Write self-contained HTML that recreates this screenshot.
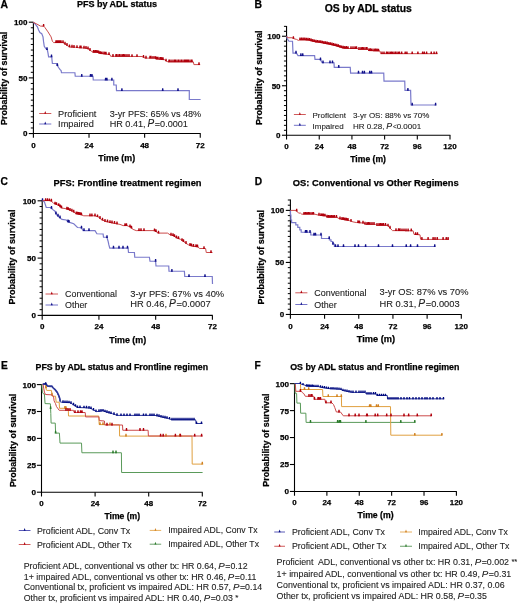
<!DOCTYPE html>
<html><head><meta charset="utf-8"><style>
html,body{margin:0;padding:0;background:#fff;width:520px;height:605px;overflow:hidden}
svg{display:block;font-family:"Liberation Sans", sans-serif}
text{-webkit-font-smoothing:antialiased}
.b{stroke:#000;stroke-width:0.25px;fill:#000}
.r{stroke:#222;stroke-width:0.1px}
svg{will-change:transform}
</style></head><body>
<svg width="520" height="605" viewBox="0 0 520 605">
<rect width="520" height="605" fill="#fff"/>
<text class="b" x="0.50" y="8.40" font-size="10.4" font-weight="bold" text-anchor="start" fill="#111" >A</text>
<text class="b" x="254.50" y="8.30" font-size="10.4" font-weight="bold" text-anchor="start" fill="#111" >B</text>
<text class="b" x="0.60" y="185.40" font-size="10.2" font-weight="bold" text-anchor="start" fill="#111" >C</text>
<text class="b" x="254.70" y="185.00" font-size="10.2" font-weight="bold" text-anchor="start" fill="#111" >D</text>
<text class="b" x="0.90" y="369.30" font-size="10.2" font-weight="bold" text-anchor="start" fill="#111" >E</text>
<text class="b" x="254.50" y="369.20" font-size="10.2" font-weight="bold" text-anchor="start" fill="#111" >F</text>
<text class="b" x="76.90" y="7.30" font-size="9.0" font-weight="bold" text-anchor="start" fill="#111" >PFS by ADL status</text>
<text class="b" x="324.70" y="11.90" font-size="10.4" font-weight="bold" text-anchor="start" fill="#111" >OS by ADL status</text>
<text class="b" x="53.60" y="186.10" font-size="9.36" font-weight="bold" text-anchor="start" fill="#111" >PFS: Frontline treatment regimen</text>
<text class="b" x="292.80" y="185.50" font-size="9.33" font-weight="bold" text-anchor="start" fill="#111" >OS: Conventional vs Other Regimens</text>
<text class="b" x="35.60" y="370.30" font-size="8.77" font-weight="bold" text-anchor="start" fill="#111" >PFS by ADL status and Frontline regimen</text>
<text class="b" x="290.20" y="370.00" font-size="8.84" font-weight="bold" text-anchor="start" fill="#111" >OS by ADL status and Frontline regimen</text>
<text class="b" x="116.70" y="160.60" font-size="8.9" font-weight="bold" text-anchor="middle" fill="#111" >Time (m)</text>
<text class="b" x="368.10" y="161.50" font-size="8.6" font-weight="bold" text-anchor="middle" fill="#111" >Time (m)</text>
<text class="b" x="127.70" y="342.60" font-size="8.9" font-weight="bold" text-anchor="middle" fill="#111" >Time (m)</text>
<text class="b" x="376.00" y="341.50" font-size="9.25" font-weight="bold" text-anchor="middle" fill="#111" >Time (m)</text>
<text class="b" x="122.30" y="518.70" font-size="8.6" font-weight="bold" text-anchor="middle" fill="#111" >Time (m)</text>
<text class="b" x="375.60" y="517.50" font-size="8.7" font-weight="bold" text-anchor="middle" fill="#111" >Time (m)</text>
<text class="b" transform="translate(7.30,124.90) rotate(-90)" font-size="8.93" font-weight="bold" fill="#111">Probability of survival</text>
<text class="b" transform="translate(261.80,125.00) rotate(-90)" font-size="9.05" font-weight="bold" fill="#111">Probability of survival</text>
<text class="b" transform="translate(14.90,304.60) rotate(-90)" font-size="9.1" font-weight="bold" fill="#111">Probability of survival</text>
<text class="b" transform="translate(264.20,304.50) rotate(-90)" font-size="9.05" font-weight="bold" fill="#111">Probability of survival</text>
<text class="b" transform="translate(15.60,487.10) rotate(-90)" font-size="8.93" font-weight="bold" fill="#111">Probability of survival</text>
<text class="b" transform="translate(268.60,486.70) rotate(-90)" font-size="8.93" font-weight="bold" fill="#111">Probability of survival</text>
<line x1="33.40" y1="21.90" x2="33.40" y2="134.05" stroke="#000" stroke-width="1.1"/>
<line x1="32.90" y1="133.55" x2="200.65" y2="133.55" stroke="#000" stroke-width="1.1"/>
<line x1="30.80" y1="127.98" x2="33.40" y2="127.98" stroke="#000" stroke-width="1.0"/>
<line x1="30.80" y1="122.42" x2="33.40" y2="122.42" stroke="#000" stroke-width="1.0"/>
<line x1="30.80" y1="116.85" x2="33.40" y2="116.85" stroke="#000" stroke-width="1.0"/>
<line x1="30.80" y1="111.28" x2="33.40" y2="111.28" stroke="#000" stroke-width="1.0"/>
<line x1="30.80" y1="105.71" x2="33.40" y2="105.71" stroke="#000" stroke-width="1.0"/>
<line x1="30.80" y1="100.15" x2="33.40" y2="100.15" stroke="#000" stroke-width="1.0"/>
<line x1="30.80" y1="94.58" x2="33.40" y2="94.58" stroke="#000" stroke-width="1.0"/>
<line x1="30.80" y1="89.01" x2="33.40" y2="89.01" stroke="#000" stroke-width="1.0"/>
<line x1="30.80" y1="83.44" x2="33.40" y2="83.44" stroke="#000" stroke-width="1.0"/>
<line x1="30.80" y1="72.31" x2="33.40" y2="72.31" stroke="#000" stroke-width="1.0"/>
<line x1="30.80" y1="66.74" x2="33.40" y2="66.74" stroke="#000" stroke-width="1.0"/>
<line x1="30.80" y1="61.17" x2="33.40" y2="61.17" stroke="#000" stroke-width="1.0"/>
<line x1="30.80" y1="55.61" x2="33.40" y2="55.61" stroke="#000" stroke-width="1.0"/>
<line x1="30.80" y1="50.04" x2="33.40" y2="50.04" stroke="#000" stroke-width="1.0"/>
<line x1="30.80" y1="44.47" x2="33.40" y2="44.47" stroke="#000" stroke-width="1.0"/>
<line x1="30.80" y1="38.90" x2="33.40" y2="38.90" stroke="#000" stroke-width="1.0"/>
<line x1="30.80" y1="33.33" x2="33.40" y2="33.33" stroke="#000" stroke-width="1.0"/>
<line x1="30.80" y1="27.77" x2="33.40" y2="27.77" stroke="#000" stroke-width="1.0"/>
<line x1="28.80" y1="133.55" x2="33.40" y2="133.55" stroke="#000" stroke-width="1.1"/>
<text class="b" x="27.40" y="136.43" font-size="8.0" font-weight="bold" text-anchor="end" fill="#111" >0</text>
<line x1="28.80" y1="77.88" x2="33.40" y2="77.88" stroke="#000" stroke-width="1.1"/>
<text class="b" x="27.40" y="80.75" font-size="8.0" font-weight="bold" text-anchor="end" fill="#111" >50</text>
<line x1="28.80" y1="22.20" x2="33.40" y2="22.20" stroke="#000" stroke-width="1.1"/>
<text class="b" x="27.40" y="25.08" font-size="8.0" font-weight="bold" text-anchor="end" fill="#111" >100</text>
<line x1="33.40" y1="133.55" x2="33.40" y2="137.85" stroke="#000" stroke-width="1.1"/>
<text class="b" x="33.40" y="147.60" font-size="8.0" font-weight="bold" text-anchor="middle" fill="#111" >0</text>
<line x1="89.02" y1="133.55" x2="89.02" y2="137.85" stroke="#000" stroke-width="1.1"/>
<text class="b" x="89.02" y="147.60" font-size="8.0" font-weight="bold" text-anchor="middle" fill="#111" >24</text>
<line x1="144.63" y1="133.55" x2="144.63" y2="137.85" stroke="#000" stroke-width="1.1"/>
<text class="b" x="144.63" y="147.60" font-size="8.0" font-weight="bold" text-anchor="middle" fill="#111" >48</text>
<line x1="200.25" y1="133.55" x2="200.25" y2="137.85" stroke="#000" stroke-width="1.1"/>
<text class="b" x="200.25" y="147.60" font-size="8.0" font-weight="bold" text-anchor="middle" fill="#111" >72</text>
<line x1="286.55" y1="25.95" x2="286.55" y2="135.75" stroke="#000" stroke-width="1.1"/>
<line x1="286.05" y1="135.25" x2="450.40" y2="135.25" stroke="#000" stroke-width="1.1"/>
<line x1="283.95" y1="130.30" x2="286.55" y2="130.30" stroke="#000" stroke-width="1.0"/>
<line x1="283.95" y1="125.35" x2="286.55" y2="125.35" stroke="#000" stroke-width="1.0"/>
<line x1="283.95" y1="120.40" x2="286.55" y2="120.40" stroke="#000" stroke-width="1.0"/>
<line x1="283.95" y1="115.45" x2="286.55" y2="115.45" stroke="#000" stroke-width="1.0"/>
<line x1="283.95" y1="110.50" x2="286.55" y2="110.50" stroke="#000" stroke-width="1.0"/>
<line x1="283.95" y1="105.55" x2="286.55" y2="105.55" stroke="#000" stroke-width="1.0"/>
<line x1="283.95" y1="100.60" x2="286.55" y2="100.60" stroke="#000" stroke-width="1.0"/>
<line x1="283.95" y1="95.65" x2="286.55" y2="95.65" stroke="#000" stroke-width="1.0"/>
<line x1="283.95" y1="90.70" x2="286.55" y2="90.70" stroke="#000" stroke-width="1.0"/>
<line x1="283.95" y1="80.80" x2="286.55" y2="80.80" stroke="#000" stroke-width="1.0"/>
<line x1="283.95" y1="75.85" x2="286.55" y2="75.85" stroke="#000" stroke-width="1.0"/>
<line x1="283.95" y1="70.90" x2="286.55" y2="70.90" stroke="#000" stroke-width="1.0"/>
<line x1="283.95" y1="65.95" x2="286.55" y2="65.95" stroke="#000" stroke-width="1.0"/>
<line x1="283.95" y1="61.00" x2="286.55" y2="61.00" stroke="#000" stroke-width="1.0"/>
<line x1="283.95" y1="56.05" x2="286.55" y2="56.05" stroke="#000" stroke-width="1.0"/>
<line x1="283.95" y1="51.10" x2="286.55" y2="51.10" stroke="#000" stroke-width="1.0"/>
<line x1="283.95" y1="46.15" x2="286.55" y2="46.15" stroke="#000" stroke-width="1.0"/>
<line x1="283.95" y1="41.20" x2="286.55" y2="41.20" stroke="#000" stroke-width="1.0"/>
<line x1="283.95" y1="31.30" x2="286.55" y2="31.30" stroke="#000" stroke-width="1.0"/>
<line x1="283.95" y1="26.35" x2="286.55" y2="26.35" stroke="#000" stroke-width="1.0"/>
<line x1="281.95" y1="135.25" x2="286.55" y2="135.25" stroke="#000" stroke-width="1.1"/>
<text class="b" x="280.55" y="138.13" font-size="8.0" font-weight="bold" text-anchor="end" fill="#111" >0</text>
<line x1="281.95" y1="85.75" x2="286.55" y2="85.75" stroke="#000" stroke-width="1.1"/>
<text class="b" x="280.55" y="88.63" font-size="8.0" font-weight="bold" text-anchor="end" fill="#111" >50</text>
<line x1="281.95" y1="36.25" x2="286.55" y2="36.25" stroke="#000" stroke-width="1.1"/>
<text class="b" x="280.55" y="39.13" font-size="8.0" font-weight="bold" text-anchor="end" fill="#111" >100</text>
<line x1="286.55" y1="135.25" x2="286.55" y2="139.55" stroke="#000" stroke-width="1.1"/>
<text class="b" x="286.55" y="148.80" font-size="8.0" font-weight="bold" text-anchor="middle" fill="#111" >0</text>
<line x1="319.24" y1="135.25" x2="319.24" y2="139.55" stroke="#000" stroke-width="1.1"/>
<text class="b" x="319.24" y="148.80" font-size="8.0" font-weight="bold" text-anchor="middle" fill="#111" >24</text>
<line x1="351.93" y1="135.25" x2="351.93" y2="139.55" stroke="#000" stroke-width="1.1"/>
<text class="b" x="351.93" y="148.80" font-size="8.0" font-weight="bold" text-anchor="middle" fill="#111" >48</text>
<line x1="384.62" y1="135.25" x2="384.62" y2="139.55" stroke="#000" stroke-width="1.1"/>
<text class="b" x="384.62" y="148.80" font-size="8.0" font-weight="bold" text-anchor="middle" fill="#111" >72</text>
<line x1="417.31" y1="135.25" x2="417.31" y2="139.55" stroke="#000" stroke-width="1.1"/>
<text class="b" x="417.31" y="148.80" font-size="8.0" font-weight="bold" text-anchor="middle" fill="#111" >96</text>
<line x1="450.00" y1="135.25" x2="450.00" y2="139.55" stroke="#000" stroke-width="1.1"/>
<text class="b" x="450.00" y="148.80" font-size="8.0" font-weight="bold" text-anchor="middle" fill="#111" >120</text>
<line x1="42.20" y1="200.50" x2="42.20" y2="315.90" stroke="#000" stroke-width="1.1"/>
<line x1="41.70" y1="315.40" x2="212.80" y2="315.40" stroke="#000" stroke-width="1.1"/>
<line x1="39.60" y1="309.67" x2="42.20" y2="309.67" stroke="#000" stroke-width="1.0"/>
<line x1="39.60" y1="303.94" x2="42.20" y2="303.94" stroke="#000" stroke-width="1.0"/>
<line x1="39.60" y1="298.21" x2="42.20" y2="298.21" stroke="#000" stroke-width="1.0"/>
<line x1="39.60" y1="292.48" x2="42.20" y2="292.48" stroke="#000" stroke-width="1.0"/>
<line x1="39.60" y1="286.75" x2="42.20" y2="286.75" stroke="#000" stroke-width="1.0"/>
<line x1="39.60" y1="281.02" x2="42.20" y2="281.02" stroke="#000" stroke-width="1.0"/>
<line x1="39.60" y1="275.29" x2="42.20" y2="275.29" stroke="#000" stroke-width="1.0"/>
<line x1="39.60" y1="269.56" x2="42.20" y2="269.56" stroke="#000" stroke-width="1.0"/>
<line x1="39.60" y1="263.83" x2="42.20" y2="263.83" stroke="#000" stroke-width="1.0"/>
<line x1="39.60" y1="252.37" x2="42.20" y2="252.37" stroke="#000" stroke-width="1.0"/>
<line x1="39.60" y1="246.64" x2="42.20" y2="246.64" stroke="#000" stroke-width="1.0"/>
<line x1="39.60" y1="240.91" x2="42.20" y2="240.91" stroke="#000" stroke-width="1.0"/>
<line x1="39.60" y1="235.18" x2="42.20" y2="235.18" stroke="#000" stroke-width="1.0"/>
<line x1="39.60" y1="229.45" x2="42.20" y2="229.45" stroke="#000" stroke-width="1.0"/>
<line x1="39.60" y1="223.72" x2="42.20" y2="223.72" stroke="#000" stroke-width="1.0"/>
<line x1="39.60" y1="217.99" x2="42.20" y2="217.99" stroke="#000" stroke-width="1.0"/>
<line x1="39.60" y1="212.26" x2="42.20" y2="212.26" stroke="#000" stroke-width="1.0"/>
<line x1="39.60" y1="206.53" x2="42.20" y2="206.53" stroke="#000" stroke-width="1.0"/>
<line x1="37.60" y1="315.40" x2="42.20" y2="315.40" stroke="#000" stroke-width="1.1"/>
<text class="b" x="36.00" y="318.28" font-size="8.0" font-weight="bold" text-anchor="end" fill="#111" >0</text>
<line x1="37.60" y1="258.10" x2="42.20" y2="258.10" stroke="#000" stroke-width="1.1"/>
<text class="b" x="36.00" y="260.98" font-size="8.0" font-weight="bold" text-anchor="end" fill="#111" >50</text>
<line x1="37.60" y1="200.80" x2="42.20" y2="200.80" stroke="#000" stroke-width="1.1"/>
<text class="b" x="36.00" y="203.68" font-size="8.0" font-weight="bold" text-anchor="end" fill="#111" >100</text>
<line x1="42.20" y1="315.40" x2="42.20" y2="319.70" stroke="#000" stroke-width="1.1"/>
<text class="b" x="42.20" y="329.40" font-size="8.0" font-weight="bold" text-anchor="middle" fill="#111" >0</text>
<line x1="98.93" y1="315.40" x2="98.93" y2="319.70" stroke="#000" stroke-width="1.1"/>
<text class="b" x="98.93" y="329.40" font-size="8.0" font-weight="bold" text-anchor="middle" fill="#111" >24</text>
<line x1="155.67" y1="315.40" x2="155.67" y2="319.70" stroke="#000" stroke-width="1.1"/>
<text class="b" x="155.67" y="329.40" font-size="8.0" font-weight="bold" text-anchor="middle" fill="#111" >48</text>
<line x1="212.40" y1="315.40" x2="212.40" y2="319.70" stroke="#000" stroke-width="1.1"/>
<text class="b" x="212.40" y="329.40" font-size="8.0" font-weight="bold" text-anchor="middle" fill="#111" >72</text>
<line x1="290.40" y1="199.50" x2="290.40" y2="314.95" stroke="#000" stroke-width="1.1"/>
<line x1="289.90" y1="314.45" x2="461.70" y2="314.45" stroke="#000" stroke-width="1.1"/>
<line x1="287.80" y1="309.25" x2="290.40" y2="309.25" stroke="#000" stroke-width="1.0"/>
<line x1="287.80" y1="304.05" x2="290.40" y2="304.05" stroke="#000" stroke-width="1.0"/>
<line x1="287.80" y1="298.84" x2="290.40" y2="298.84" stroke="#000" stroke-width="1.0"/>
<line x1="287.80" y1="293.64" x2="290.40" y2="293.64" stroke="#000" stroke-width="1.0"/>
<line x1="287.80" y1="288.44" x2="290.40" y2="288.44" stroke="#000" stroke-width="1.0"/>
<line x1="287.80" y1="283.24" x2="290.40" y2="283.24" stroke="#000" stroke-width="1.0"/>
<line x1="287.80" y1="278.03" x2="290.40" y2="278.03" stroke="#000" stroke-width="1.0"/>
<line x1="287.80" y1="272.83" x2="290.40" y2="272.83" stroke="#000" stroke-width="1.0"/>
<line x1="287.80" y1="267.63" x2="290.40" y2="267.63" stroke="#000" stroke-width="1.0"/>
<line x1="287.80" y1="257.22" x2="290.40" y2="257.22" stroke="#000" stroke-width="1.0"/>
<line x1="287.80" y1="252.02" x2="290.40" y2="252.02" stroke="#000" stroke-width="1.0"/>
<line x1="287.80" y1="246.82" x2="290.40" y2="246.82" stroke="#000" stroke-width="1.0"/>
<line x1="287.80" y1="241.62" x2="290.40" y2="241.62" stroke="#000" stroke-width="1.0"/>
<line x1="287.80" y1="236.41" x2="290.40" y2="236.41" stroke="#000" stroke-width="1.0"/>
<line x1="287.80" y1="231.21" x2="290.40" y2="231.21" stroke="#000" stroke-width="1.0"/>
<line x1="287.80" y1="226.01" x2="290.40" y2="226.01" stroke="#000" stroke-width="1.0"/>
<line x1="287.80" y1="220.81" x2="290.40" y2="220.81" stroke="#000" stroke-width="1.0"/>
<line x1="287.80" y1="215.60" x2="290.40" y2="215.60" stroke="#000" stroke-width="1.0"/>
<line x1="287.80" y1="205.20" x2="290.40" y2="205.20" stroke="#000" stroke-width="1.0"/>
<line x1="287.80" y1="200.00" x2="290.40" y2="200.00" stroke="#000" stroke-width="1.0"/>
<line x1="285.80" y1="314.45" x2="290.40" y2="314.45" stroke="#000" stroke-width="1.1"/>
<text class="b" x="284.20" y="317.33" font-size="8.0" font-weight="bold" text-anchor="end" fill="#111" >0</text>
<line x1="285.80" y1="262.43" x2="290.40" y2="262.43" stroke="#000" stroke-width="1.1"/>
<text class="b" x="284.20" y="265.31" font-size="8.0" font-weight="bold" text-anchor="end" fill="#111" >50</text>
<line x1="285.80" y1="210.40" x2="290.40" y2="210.40" stroke="#000" stroke-width="1.1"/>
<text class="b" x="284.20" y="213.28" font-size="8.0" font-weight="bold" text-anchor="end" fill="#111" >100</text>
<line x1="290.40" y1="314.45" x2="290.40" y2="318.75" stroke="#000" stroke-width="1.1"/>
<text class="b" x="290.40" y="328.70" font-size="8.0" font-weight="bold" text-anchor="middle" fill="#111" >0</text>
<line x1="324.58" y1="314.45" x2="324.58" y2="318.75" stroke="#000" stroke-width="1.1"/>
<text class="b" x="324.58" y="328.70" font-size="8.0" font-weight="bold" text-anchor="middle" fill="#111" >24</text>
<line x1="358.76" y1="314.45" x2="358.76" y2="318.75" stroke="#000" stroke-width="1.1"/>
<text class="b" x="358.76" y="328.70" font-size="8.0" font-weight="bold" text-anchor="middle" fill="#111" >48</text>
<line x1="392.94" y1="314.45" x2="392.94" y2="318.75" stroke="#000" stroke-width="1.1"/>
<text class="b" x="392.94" y="328.70" font-size="8.0" font-weight="bold" text-anchor="middle" fill="#111" >72</text>
<line x1="427.12" y1="314.45" x2="427.12" y2="318.75" stroke="#000" stroke-width="1.1"/>
<text class="b" x="427.12" y="328.70" font-size="8.0" font-weight="bold" text-anchor="middle" fill="#111" >96</text>
<line x1="461.30" y1="314.45" x2="461.30" y2="318.75" stroke="#000" stroke-width="1.1"/>
<text class="b" x="461.30" y="328.70" font-size="8.0" font-weight="bold" text-anchor="middle" fill="#111" >120</text>
<line x1="41.50" y1="384.30" x2="41.50" y2="492.70" stroke="#000" stroke-width="1.1"/>
<line x1="41.00" y1="492.20" x2="202.70" y2="492.20" stroke="#000" stroke-width="1.1"/>
<line x1="36.90" y1="492.20" x2="41.50" y2="492.20" stroke="#000" stroke-width="1.1"/>
<text class="b" x="36.00" y="495.12" font-size="8.1" font-weight="bold" text-anchor="end" fill="#111" >0</text>
<line x1="36.90" y1="465.30" x2="41.50" y2="465.30" stroke="#000" stroke-width="1.1"/>
<text class="b" x="36.00" y="468.22" font-size="8.1" font-weight="bold" text-anchor="end" fill="#111" >25</text>
<line x1="36.90" y1="438.40" x2="41.50" y2="438.40" stroke="#000" stroke-width="1.1"/>
<text class="b" x="36.00" y="441.32" font-size="8.1" font-weight="bold" text-anchor="end" fill="#111" >50</text>
<line x1="36.90" y1="411.50" x2="41.50" y2="411.50" stroke="#000" stroke-width="1.1"/>
<text class="b" x="36.00" y="414.42" font-size="8.1" font-weight="bold" text-anchor="end" fill="#111" >75</text>
<line x1="36.90" y1="384.60" x2="41.50" y2="384.60" stroke="#000" stroke-width="1.1"/>
<text class="b" x="36.00" y="387.52" font-size="8.1" font-weight="bold" text-anchor="end" fill="#111" >100</text>
<line x1="41.50" y1="492.20" x2="41.50" y2="496.50" stroke="#000" stroke-width="1.1"/>
<text class="b" x="41.50" y="505.60" font-size="7.9" font-weight="bold" text-anchor="middle" fill="#111" >0</text>
<line x1="95.10" y1="492.20" x2="95.10" y2="496.50" stroke="#000" stroke-width="1.1"/>
<text class="b" x="95.10" y="505.60" font-size="7.9" font-weight="bold" text-anchor="middle" fill="#111" >24</text>
<line x1="148.70" y1="492.20" x2="148.70" y2="496.50" stroke="#000" stroke-width="1.1"/>
<text class="b" x="148.70" y="505.60" font-size="7.9" font-weight="bold" text-anchor="middle" fill="#111" >48</text>
<line x1="202.30" y1="492.20" x2="202.30" y2="496.50" stroke="#000" stroke-width="1.1"/>
<text class="b" x="202.30" y="505.60" font-size="7.9" font-weight="bold" text-anchor="middle" fill="#111" >72</text>
<line x1="294.50" y1="383.35" x2="294.50" y2="491.95" stroke="#000" stroke-width="1.1"/>
<line x1="294.00" y1="491.45" x2="456.80" y2="491.45" stroke="#000" stroke-width="1.1"/>
<line x1="289.90" y1="491.45" x2="294.50" y2="491.45" stroke="#000" stroke-width="1.1"/>
<text class="b" x="289.00" y="494.37" font-size="8.1" font-weight="bold" text-anchor="end" fill="#111" >0</text>
<line x1="289.90" y1="464.50" x2="294.50" y2="464.50" stroke="#000" stroke-width="1.1"/>
<text class="b" x="289.00" y="467.42" font-size="8.1" font-weight="bold" text-anchor="end" fill="#111" >25</text>
<line x1="289.90" y1="437.55" x2="294.50" y2="437.55" stroke="#000" stroke-width="1.1"/>
<text class="b" x="289.00" y="440.47" font-size="8.1" font-weight="bold" text-anchor="end" fill="#111" >50</text>
<line x1="289.90" y1="410.60" x2="294.50" y2="410.60" stroke="#000" stroke-width="1.1"/>
<text class="b" x="289.00" y="413.52" font-size="8.1" font-weight="bold" text-anchor="end" fill="#111" >75</text>
<line x1="289.90" y1="383.65" x2="294.50" y2="383.65" stroke="#000" stroke-width="1.1"/>
<text class="b" x="289.00" y="386.57" font-size="8.1" font-weight="bold" text-anchor="end" fill="#111" >100</text>
<line x1="294.50" y1="491.45" x2="294.50" y2="495.75" stroke="#000" stroke-width="1.1"/>
<text class="b" x="294.50" y="505.10" font-size="7.9" font-weight="bold" text-anchor="middle" fill="#111" >0</text>
<line x1="326.88" y1="491.45" x2="326.88" y2="495.75" stroke="#000" stroke-width="1.1"/>
<text class="b" x="326.88" y="505.10" font-size="7.9" font-weight="bold" text-anchor="middle" fill="#111" >24</text>
<line x1="359.26" y1="491.45" x2="359.26" y2="495.75" stroke="#000" stroke-width="1.1"/>
<text class="b" x="359.26" y="505.10" font-size="7.9" font-weight="bold" text-anchor="middle" fill="#111" >48</text>
<line x1="391.64" y1="491.45" x2="391.64" y2="495.75" stroke="#000" stroke-width="1.1"/>
<text class="b" x="391.64" y="505.10" font-size="7.9" font-weight="bold" text-anchor="middle" fill="#111" >72</text>
<line x1="424.02" y1="491.45" x2="424.02" y2="495.75" stroke="#000" stroke-width="1.1"/>
<text class="b" x="424.02" y="505.10" font-size="7.9" font-weight="bold" text-anchor="middle" fill="#111" >96</text>
<line x1="456.40" y1="491.45" x2="456.40" y2="495.75" stroke="#000" stroke-width="1.1"/>
<text class="b" x="456.40" y="505.10" font-size="7.9" font-weight="bold" text-anchor="middle" fill="#111" >120</text>
<path d="M33.25,22.30 L35.50,24.40 L37.40,26.90 L38.60,30.00 L39.90,32.50 L41.75,33.75 L43.00,36.90 L43.60,41.90 L44.25,46.25 L45.50,48.10 L47.40,50.00 L48.00,53.10 L48.60,56.90 L51.75,56.90 L52.00,60.00 L52.40,63.50 L56.50,63.50 L57.40,65.60 L58.60,67.50 L59.90,69.40 L61.10,70.60 L61.50,72.75 L74.90,72.75 L75.25,76.25 L93.00,76.25 L93.25,80.00 L113.75,80.00 L113.75,85.00 L116.25,85.00 L116.50,90.60 L189.30,90.60 L189.30,99.50 L200.60,99.50" fill="none" stroke="#7a7acb" stroke-width="1.2" stroke-opacity="1.0" stroke-linejoin="miter"/>
<path d="M46.05,50.00L46.39,47.30L47.61,47.30L47.95,50.00ZM50.55,57.30L50.89,54.60L52.11,54.60L52.45,57.30ZM56.45,66.00L56.79,63.30L58.01,63.30L58.35,66.00ZM80.80,76.65L81.14,73.95L82.36,73.95L82.70,76.65ZM89.55,76.65L89.89,73.95L91.11,73.95L91.45,76.65ZM91.05,76.65L91.39,73.95L92.61,73.95L92.95,76.65ZM104.65,80.40L104.99,77.70L106.21,77.70L106.55,80.40ZM105.95,80.40L106.29,77.70L107.51,77.70L107.85,80.40ZM110.95,80.40L111.29,77.70L112.51,77.70L112.85,80.40ZM120.95,91.00L121.29,88.30L122.51,88.30L122.85,91.00ZM161.75,91.00L162.09,88.30L163.31,88.30L163.65,91.00ZM177.05,91.00L177.39,88.30L178.61,88.30L178.95,91.00Z" fill="#10108a"/>
<path d="M33.25,22.30 L36.75,24.00 L40.50,26.10 L43.60,26.20 L44.90,27.50 L48.00,31.90 L51.10,36.90 L52.40,41.25 L53.60,42.60 L63.00,42.60 L64.90,44.00 L67.40,45.60 L69.90,47.10 L75.50,47.30 L79.25,47.75 L85.50,48.10 L88.00,48.75 L90.50,50.60 L93.00,52.20 L98.00,52.50 L100.00,53.50 L105.00,54.00 L110.00,54.60 L110.60,56.30 L142.50,56.50 L143.75,57.50 L145.00,58.10 L155.00,58.20 L156.30,58.90 L160.00,59.30 L164.80,59.80 L165.90,60.90 L168.00,61.90 L193.40,61.90 L193.90,64.60 L200.20,64.60" fill="none" stroke="#cc4a4a" stroke-width="1.0" stroke-opacity="1.0" stroke-linejoin="miter"/>
<path d="M42.65,26.60L42.99,23.90L44.21,23.90L44.55,26.60ZM55.05,43.00L55.39,40.30L56.61,40.30L56.95,43.00ZM56.05,43.00L56.39,40.30L57.61,40.30L57.95,43.00ZM57.05,43.00L57.39,40.30L58.61,40.30L58.95,43.00ZM58.05,43.00L58.39,40.30L59.61,40.30L59.95,43.00ZM59.05,43.00L59.39,40.30L60.61,40.30L60.95,43.00ZM60.05,43.00L60.39,40.30L61.61,40.30L61.95,43.00ZM62.05,43.00L62.39,40.30L63.61,40.30L63.95,43.00ZM64.05,44.46L64.39,41.76L65.61,41.76L65.95,44.46ZM66.05,45.74L66.39,43.04L67.61,43.04L67.95,45.74ZM68.55,47.26L68.89,44.56L70.11,44.56L70.45,47.26ZM71.05,47.57L71.39,44.87L72.61,44.87L72.95,47.57ZM73.05,47.65L73.39,44.95L74.61,44.95L74.95,47.65ZM76.05,47.88L76.39,45.18L77.61,45.18L77.95,47.88ZM79.05,48.19L79.39,45.49L80.61,45.49L80.95,48.19ZM80.05,48.25L80.39,45.55L81.61,45.55L81.95,48.25ZM83.05,48.42L83.39,45.72L84.61,45.72L84.95,48.42ZM85.05,48.63L85.39,45.93L86.61,45.93L86.95,48.63ZM87.05,49.15L87.39,46.45L88.61,46.45L88.95,49.15ZM89.05,50.63L89.39,47.93L90.61,47.93L90.95,50.63ZM92.55,52.63L92.89,49.93L94.11,49.93L94.45,52.63ZM94.05,52.72L94.39,50.02L95.61,50.02L95.95,52.72ZM95.05,52.78L95.39,50.08L96.61,50.08L96.95,52.78ZM96.05,52.84L96.39,50.14L97.61,50.14L97.95,52.84ZM97.05,52.90L97.39,50.20L98.61,50.20L98.95,52.90ZM98.05,53.40L98.39,50.70L99.61,50.70L99.95,53.40ZM99.55,53.95L99.89,51.25L101.11,51.25L101.45,53.95ZM101.05,54.10L101.39,51.40L102.61,51.40L102.95,54.10ZM103.05,54.30L103.39,51.60L104.61,51.60L104.95,54.30ZM104.55,54.46L104.89,51.76L106.11,51.76L106.45,54.46ZM105.05,54.52L105.39,51.82L106.61,51.82L106.95,54.52ZM108.05,54.88L108.39,52.18L109.61,52.18L109.95,54.88ZM112.05,56.72L112.39,54.02L113.61,54.02L113.95,56.72ZM115.05,56.73L115.39,54.03L116.61,54.03L116.95,56.73ZM116.05,56.74L116.39,54.04L117.61,54.04L117.95,56.74ZM118.05,56.75L118.39,54.05L119.61,54.05L119.95,56.75ZM119.05,56.76L119.39,54.06L120.61,54.06L120.95,56.76ZM121.05,56.77L121.39,54.07L122.61,54.07L122.95,56.77ZM122.55,56.78L122.89,54.08L124.11,54.08L124.45,56.78ZM124.05,56.79L124.39,54.09L125.61,54.09L125.95,56.79ZM126.05,56.80L126.39,54.10L127.61,54.10L127.95,56.80ZM128.05,56.82L128.39,54.12L129.61,54.12L129.95,56.82ZM131.05,56.83L131.39,54.13L132.61,54.13L132.95,56.83ZM136.05,56.87L136.39,54.17L137.61,54.17L137.95,56.87ZM142.55,57.70L142.89,55.00L144.11,55.00L144.45,57.70ZM145.05,58.51L145.39,55.81L146.61,55.81L146.95,58.51ZM149.05,58.55L149.39,55.85L150.61,55.85L150.95,58.55ZM150.05,58.56L150.39,55.86L151.61,55.86L151.95,58.56ZM152.05,58.58L152.39,55.88L153.61,55.88L153.95,58.58ZM154.05,58.60L154.39,55.90L155.61,55.90L155.95,58.60ZM155.05,59.14L155.39,56.44L156.61,56.44L156.95,59.14ZM156.05,59.38L156.39,56.68L157.61,56.68L157.95,59.38ZM157.05,59.48L157.39,56.78L158.61,56.78L158.95,59.48ZM159.05,59.70L159.39,57.00L160.61,57.00L160.95,59.70ZM160.05,59.80L160.39,57.10L161.61,57.10L161.95,59.80ZM161.05,59.91L161.39,57.21L162.61,57.21L162.95,59.91ZM162.05,60.01L162.39,57.31L163.61,57.31L163.95,60.01ZM165.05,61.35L165.39,58.65L166.61,58.65L166.95,61.35ZM168.05,62.30L168.39,59.60L169.61,59.60L169.95,62.30ZM169.05,62.30L169.39,59.60L170.61,59.60L170.95,62.30ZM171.05,62.30L171.39,59.60L172.61,59.60L172.95,62.30ZM173.05,62.30L173.39,59.60L174.61,59.60L174.95,62.30ZM174.05,62.30L174.39,59.60L175.61,59.60L175.95,62.30ZM175.05,62.30L175.39,59.60L176.61,59.60L176.95,62.30ZM177.05,62.30L177.39,59.60L178.61,59.60L178.95,62.30ZM178.05,62.30L178.39,59.60L179.61,59.60L179.95,62.30ZM180.05,62.30L180.39,59.60L181.61,59.60L181.95,62.30ZM181.05,62.30L181.39,59.60L182.61,59.60L182.95,62.30ZM183.05,62.30L183.39,59.60L184.61,59.60L184.95,62.30ZM184.05,62.30L184.39,59.60L185.61,59.60L185.95,62.30ZM185.05,62.30L185.39,59.60L186.61,59.60L186.95,62.30ZM186.05,62.30L186.39,59.60L187.61,59.60L187.95,62.30ZM187.05,62.30L187.39,59.60L188.61,59.60L188.95,62.30ZM188.05,62.30L188.39,59.60L189.61,59.60L189.95,62.30ZM190.05,62.30L190.39,59.60L191.61,59.60L191.95,62.30ZM191.05,62.30L191.39,59.60L192.61,59.60L192.95,62.30ZM198.05,65.00L198.39,62.30L199.61,62.30L199.95,65.00Z" fill="#b0000c"/>
<path d="M286.75,36.25 L287.10,38.50 L289.00,41.25 L292.50,41.25 L293.00,53.10 L296.50,53.10 L298.00,55.60 L314.60,55.60 L315.00,59.40 L320.25,59.40 L322.10,62.75 L334.00,62.75 L334.25,67.40 L350.25,67.40 L350.60,73.10 L383.75,73.10 L384.00,81.20 L404.75,81.20 L405.00,90.40 L410.60,90.40 L411.00,105.00 L435.90,105.00" fill="none" stroke="#7a7acb" stroke-width="1.2" stroke-opacity="1.0" stroke-linejoin="miter"/>
<path d="M295.05,53.50L295.39,50.80L296.61,50.80L296.95,53.50ZM299.95,56.00L300.29,53.30L301.51,53.30L301.85,56.00ZM301.80,56.00L302.14,53.30L303.36,53.30L303.70,56.00ZM319.55,60.25L319.89,57.55L321.11,57.55L321.45,60.25ZM322.05,63.15L322.39,60.45L323.61,60.45L323.95,63.15ZM329.05,63.15L329.39,60.45L330.61,60.45L330.95,63.15ZM331.55,63.15L331.89,60.45L333.11,60.45L333.45,63.15ZM337.80,67.80L338.14,65.10L339.36,65.10L339.70,67.80ZM357.55,73.50L357.89,70.80L359.11,70.80L359.45,73.50ZM361.55,73.50L361.89,70.80L363.11,70.80L363.45,73.50ZM363.45,73.50L363.79,70.80L365.01,70.80L365.35,73.50ZM368.80,73.50L369.14,70.80L370.36,70.80L370.70,73.50ZM370.55,73.50L370.89,70.80L372.11,70.80L372.45,73.50ZM406.95,90.80L407.29,88.10L408.51,88.10L408.85,90.80ZM411.25,105.40L411.59,102.70L412.81,102.70L413.15,105.40ZM434.65,105.40L434.99,102.70L436.21,102.70L436.55,105.40Z" fill="#10108a"/>
<path d="M286.75,36.25 L287.75,37.75 L292.10,37.75 L294.00,38.75 L296.50,39.40 L298.40,40.40 L299.60,39.90 L305.25,39.90 L309.00,40.25 L312.75,41.25 L315.25,41.90 L321.50,42.75 L326.50,43.75 L331.50,44.75 L336.50,46.00 L342.75,48.10 L349.00,48.50 L357.50,48.50 L358.10,49.40 L368.10,49.40 L368.75,50.60 L380.00,51.00 L380.60,53.70 L437.60,53.70" fill="none" stroke="#cc4a4a" stroke-width="1.0" stroke-opacity="1.0" stroke-linejoin="miter"/>
<path d="M292.45,38.83L292.79,36.13L294.01,36.13L294.35,38.83ZM299.05,40.30L299.39,37.60L300.61,37.60L300.95,40.30ZM300.65,40.30L300.99,37.60L302.21,37.60L302.55,40.30ZM302.25,40.30L302.59,37.60L303.81,37.60L304.15,40.30ZM303.85,40.30L304.19,37.60L305.41,37.60L305.75,40.30ZM305.45,40.41L305.79,37.71L307.01,37.71L307.35,40.41ZM307.05,40.56L307.39,37.86L308.61,37.86L308.95,40.56ZM308.65,40.81L308.99,38.11L310.21,38.11L310.55,40.81ZM310.25,41.24L310.59,38.54L311.81,38.54L312.15,41.24ZM311.85,41.66L312.19,38.96L313.41,38.96L313.75,41.66ZM313.45,42.08L313.79,39.38L315.01,39.38L315.35,42.08ZM315.05,42.40L315.39,39.70L316.61,39.70L316.95,42.40ZM316.65,42.62L316.99,39.92L318.21,39.92L318.55,42.62ZM318.25,42.84L318.59,40.14L319.81,40.14L320.15,42.84ZM319.85,43.05L320.19,40.35L321.41,40.35L321.75,43.05ZM321.45,43.33L321.79,40.63L323.01,40.63L323.35,43.33ZM323.05,43.65L323.39,40.95L324.61,40.95L324.95,43.65ZM324.65,43.97L324.99,41.27L326.21,41.27L326.55,43.97ZM326.25,44.29L326.59,41.59L327.81,41.59L328.15,44.29ZM327.85,44.61L328.19,41.91L329.41,41.91L329.75,44.61ZM329.45,44.93L329.79,42.23L331.01,42.23L331.35,44.93ZM331.05,45.28L331.39,42.58L332.61,42.58L332.95,45.28ZM332.65,45.68L332.99,42.98L334.21,42.98L334.55,45.68ZM334.25,46.08L334.59,43.38L335.81,43.38L336.15,46.08ZM335.85,46.50L336.19,43.80L337.41,43.80L337.75,46.50ZM337.45,47.04L337.79,44.34L339.01,44.34L339.35,47.04ZM339.05,47.58L339.39,44.88L340.61,44.88L340.95,47.58ZM340.65,48.11L340.99,45.41L342.21,45.41L342.55,48.11ZM342.25,48.53L342.59,45.83L343.81,45.83L344.15,48.53ZM343.85,48.63L344.19,45.93L345.41,45.93L345.75,48.63ZM345.45,48.73L345.79,46.03L347.01,46.03L347.35,48.73ZM347.05,48.84L347.39,46.14L348.61,46.14L348.95,48.84ZM350.05,48.90L350.39,46.20L351.61,46.20L351.95,48.90ZM352.05,48.90L352.39,46.20L353.61,46.20L353.95,48.90ZM354.05,48.90L354.39,46.20L355.61,46.20L355.95,48.90ZM355.55,48.90L355.89,46.20L357.11,46.20L357.45,48.90ZM358.05,49.80L358.39,47.10L359.61,47.10L359.95,49.80ZM360.05,49.80L360.39,47.10L361.61,47.10L361.95,49.80ZM361.55,49.80L361.89,47.10L363.11,47.10L363.45,49.80ZM363.05,49.80L363.39,47.10L364.61,47.10L364.95,49.80ZM365.05,49.80L365.39,47.10L366.61,47.10L366.95,49.80ZM366.05,49.80L366.39,47.10L367.61,47.10L367.95,49.80ZM368.05,51.01L368.39,48.31L369.61,48.31L369.95,51.01ZM369.55,51.06L369.89,48.36L371.11,48.36L371.45,51.06ZM371.05,51.12L371.39,48.42L372.61,48.42L372.95,51.12ZM373.05,51.19L373.39,48.49L374.61,48.49L374.95,51.19ZM374.55,51.24L374.89,48.54L376.11,48.54L376.45,51.24ZM376.05,51.29L376.39,48.59L377.61,48.59L377.95,51.29ZM377.55,51.35L377.89,48.65L379.11,48.65L379.45,51.35ZM381.05,54.10L381.39,51.40L382.61,51.40L382.95,54.10ZM383.05,54.10L383.39,51.40L384.61,51.40L384.95,54.10ZM385.55,54.10L385.89,51.40L387.11,51.40L387.45,54.10ZM387.05,54.10L387.39,51.40L388.61,51.40L388.95,54.10ZM389.05,54.10L389.39,51.40L390.61,51.40L390.95,54.10ZM390.55,54.10L390.89,51.40L392.11,51.40L392.45,54.10ZM392.05,54.10L392.39,51.40L393.61,51.40L393.95,54.10ZM394.05,54.10L394.39,51.40L395.61,51.40L395.95,54.10ZM395.05,54.10L395.39,51.40L396.61,51.40L396.95,54.10ZM397.05,54.10L397.39,51.40L398.61,51.40L398.95,54.10ZM398.55,54.10L398.89,51.40L400.11,51.40L400.45,54.10ZM400.75,54.10L401.09,51.40L402.31,51.40L402.65,54.10ZM404.25,54.10L404.59,51.40L405.81,51.40L406.15,54.10ZM405.95,54.10L406.29,51.40L407.51,51.40L407.85,54.10ZM411.25,54.10L411.59,51.40L412.81,51.40L413.15,54.10ZM416.95,54.10L417.29,51.40L418.51,51.40L418.85,54.10ZM421.65,54.10L421.99,51.40L423.21,51.40L423.55,54.10ZM423.35,54.10L423.69,51.40L424.91,51.40L425.25,54.10ZM425.65,54.10L425.99,51.40L427.21,51.40L427.55,54.10ZM430.30,54.10L430.64,51.40L431.86,51.40L432.20,54.10ZM433.15,54.10L433.49,51.40L434.71,51.40L435.05,54.10ZM435.55,54.10L435.89,51.40L437.11,51.40L437.45,54.10Z" fill="#b0000c"/>
<path d="M42.50,200.60 L44.40,201.90 L46.25,207.50 L50.60,207.50 L52.50,209.40 L55.00,211.25 L56.25,214.40 L58.75,216.90 L61.90,219.40 L66.25,220.00 L68.10,221.90 L73.75,223.75 L77.50,227.50 L81.25,227.75 L83.10,230.60 L95.00,230.60 L96.90,233.75 L103.10,234.00 L103.50,237.25 L106.90,237.25 L108.10,241.25 L108.75,244.40 L109.75,248.10 L128.10,248.10 L128.50,252.50 L134.40,252.50 L134.75,257.25 L149.40,257.25 L150.00,261.25 L155.60,261.25 L156.00,266.00 L168.75,266.00 L169.00,271.25 L184.40,271.25 L184.75,276.50 L212.25,276.50 L212.50,284.00" fill="none" stroke="#7a7acb" stroke-width="1.2" stroke-opacity="1.0" stroke-linejoin="miter"/>
<path d="M41.55,201.00L41.89,198.30L43.11,198.30L43.45,201.00ZM50.55,208.80L50.89,206.10L52.11,206.10L52.45,208.80ZM55.05,214.17L55.39,211.47L56.61,211.47L56.95,214.17ZM57.05,216.55L57.39,213.85L58.61,213.85L58.95,216.55ZM59.05,218.29L59.39,215.59L60.61,215.59L60.95,218.29ZM67.05,222.20L67.39,219.50L68.61,219.50L68.95,222.20ZM68.05,222.59L68.39,219.89L69.61,219.89L69.95,222.59ZM80.55,228.54L80.89,225.84L82.11,225.84L82.45,228.54ZM83.05,231.00L83.39,228.30L84.61,228.30L84.95,231.00ZM88.05,231.00L88.39,228.30L89.61,228.30L89.95,231.00ZM106.05,237.98L106.39,235.28L107.61,235.28L107.95,237.98ZM112.55,248.50L112.89,245.80L114.11,245.80L114.45,248.50ZM118.05,248.50L118.39,245.80L119.61,245.80L119.95,248.50ZM122.05,248.50L122.39,245.80L123.61,245.80L123.95,248.50ZM126.55,248.50L126.89,245.80L128.11,245.80L128.45,248.50ZM154.65,261.65L154.99,258.95L156.21,258.95L156.55,261.65ZM170.95,271.65L171.29,268.95L172.51,268.95L172.85,271.65ZM188.05,276.90L188.39,274.20L189.61,274.20L189.95,276.90ZM204.05,276.90L204.39,274.20L205.61,274.20L205.95,276.90Z" fill="#10108a"/>
<path d="M42.50,200.60 L45.60,200.60 L48.75,200.60 L51.25,201.00 L53.75,203.50 L56.25,204.40 L58.75,205.60 L61.90,208.10 L65.00,208.50 L68.75,209.75 L72.50,211.25 L76.25,213.75 L81.25,214.75 L83.75,215.80 L95.00,215.80 L98.10,216.90 L101.25,219.40 L105.00,221.25 L110.00,222.50 L115.00,223.50 L120.00,224.40 L123.10,225.60 L126.90,225.60 L130.00,226.90 L133.10,229.40 L136.25,230.60 L153.75,230.60 L155.60,231.25 L158.10,233.10 L167.50,233.10 L170.00,234.75 L173.10,235.60 L176.90,238.10 L180.60,239.40 L183.10,241.25 L185.60,243.10 L188.75,245.00 L192.50,246.25 L198.10,246.90 L199.40,248.50 L205.60,248.50 L206.25,252.50 L212.50,252.50" fill="none" stroke="#cc4a4a" stroke-width="1.0" stroke-opacity="1.0" stroke-linejoin="miter"/>
<path d="M44.65,201.00L44.99,198.30L46.21,198.30L46.55,201.00ZM46.55,201.00L46.89,198.30L48.11,198.30L48.45,201.00ZM48.45,201.10L48.79,198.40L50.01,198.40L50.35,201.10ZM50.45,201.55L50.79,198.85L52.01,198.85L52.35,201.55ZM54.05,204.35L54.39,201.65L55.61,201.65L55.95,204.35ZM55.55,204.92L55.89,202.22L57.11,202.22L57.45,204.92ZM57.80,206.00L58.14,203.30L59.36,203.30L59.70,206.00ZM59.25,207.15L59.59,204.45L60.81,204.45L61.15,207.15ZM60.55,208.18L60.89,205.48L62.11,205.48L62.45,208.18ZM65.95,209.53L66.29,206.83L67.51,206.83L67.85,209.53ZM67.35,210.00L67.69,207.30L68.91,207.30L69.25,210.00ZM69.05,210.65L69.39,207.95L70.61,207.95L70.95,210.65ZM70.95,211.41L71.29,208.71L72.51,208.71L72.85,211.41ZM72.80,212.48L73.14,209.78L74.36,209.78L74.70,212.48ZM75.30,214.15L75.64,211.45L76.86,211.45L77.20,214.15ZM76.65,214.42L76.99,211.72L78.21,211.72L78.55,214.42ZM77.95,214.68L78.29,211.98L79.51,211.98L79.85,214.68ZM79.25,214.94L79.59,212.24L80.81,212.24L81.15,214.94ZM80.45,215.21L80.79,212.51L82.01,212.51L82.35,215.21ZM89.05,216.20L89.39,213.50L90.61,213.50L90.95,216.20ZM90.95,216.20L91.29,213.50L92.51,213.50L92.85,216.20ZM94.05,216.20L94.39,213.50L95.61,213.50L95.95,216.20ZM96.55,217.09L96.89,214.39L98.11,214.39L98.45,217.09ZM99.05,218.81L99.39,216.11L100.61,216.11L100.95,218.81ZM101.55,220.42L101.89,217.72L103.11,217.72L103.45,220.42ZM104.05,221.65L104.39,218.95L105.61,218.95L105.95,221.65ZM106.55,222.28L106.89,219.58L108.11,219.58L108.45,222.28ZM109.05,222.90L109.39,220.20L110.61,220.20L110.95,222.90ZM111.05,223.30L111.39,220.60L112.61,220.60L112.95,223.30ZM113.55,223.80L113.89,221.10L115.11,221.10L115.45,223.80ZM116.05,224.26L116.39,221.56L117.61,221.56L117.95,224.26ZM124.05,226.00L124.39,223.30L125.61,223.30L125.95,226.00ZM125.55,226.00L125.89,223.30L127.11,223.30L127.45,226.00ZM129.05,227.30L129.39,224.60L130.61,224.60L130.95,227.30ZM130.55,228.51L130.89,225.81L132.11,225.81L132.45,228.51ZM138.05,231.00L138.39,228.30L139.61,228.30L139.95,231.00ZM140.05,231.00L140.39,228.30L141.61,228.30L141.95,231.00ZM143.05,231.00L143.39,228.30L144.61,228.30L144.95,231.00ZM153.55,231.26L153.89,228.56L155.11,228.56L155.45,231.26ZM155.05,231.95L155.39,229.25L156.61,229.25L156.95,231.95ZM157.55,233.50L157.89,230.80L159.11,230.80L159.45,233.50ZM170.05,235.42L170.39,232.72L171.61,232.72L171.95,235.42ZM172.05,235.97L172.39,233.27L173.61,233.27L173.95,235.97ZM173.55,236.92L173.89,234.22L175.11,234.22L175.45,236.92ZM175.55,238.24L175.89,235.54L177.11,235.54L177.45,238.24ZM177.55,239.06L177.89,236.36L179.11,236.36L179.45,239.06ZM181.05,240.84L181.39,238.14L182.61,238.14L182.95,240.84ZM182.55,241.95L182.89,239.25L184.11,239.25L184.45,241.95ZM185.05,243.74L185.39,241.04L186.61,241.04L186.95,243.74ZM189.05,245.82L189.39,243.12L190.61,243.12L190.95,245.82ZM190.55,246.32L190.89,243.62L192.11,243.62L192.45,246.32ZM192.55,246.77L192.89,244.07L194.11,244.07L194.45,246.77ZM195.05,247.06L195.39,244.36L196.61,244.36L196.95,247.06ZM196.55,247.23L196.89,244.53L198.11,244.53L198.45,247.23ZM203.05,248.90L203.39,246.20L204.61,246.20L204.95,248.90ZM210.05,252.90L210.39,250.20L211.61,250.20L211.95,252.90Z" fill="#b0000c"/>
<path d="M290.50,210.40 L290.50,215.00 L290.90,215.00 L290.90,220.00 L291.60,220.00 L291.60,222.60 L295.80,222.60 L295.80,224.80 L297.80,224.80 L297.80,227.40 L299.80,227.40 L299.80,229.80 L301.20,229.80 L301.20,232.25 L310.80,232.25 L310.80,235.00 L321.50,235.00 L321.50,238.50 L329.40,238.50 L329.40,239.80 L331.00,239.80 L331.00,241.50 L332.80,241.50 L332.80,244.20 L334.40,244.20 L334.40,246.50 L434.75,246.50" fill="none" stroke="#7a7acb" stroke-width="1.2" stroke-opacity="1.0" stroke-linejoin="miter"/>
<path d="M304.55,232.65L304.89,229.95L306.11,229.95L306.45,232.65ZM305.85,232.65L306.19,229.95L307.41,229.95L307.75,232.65ZM309.05,232.65L309.39,229.95L310.61,229.95L310.95,232.65ZM313.05,235.40L313.39,232.70L314.61,232.70L314.95,235.40ZM314.55,235.40L314.89,232.70L316.11,232.70L316.45,235.40ZM320.05,235.40L320.39,232.70L321.61,232.70L321.95,235.40ZM328.25,238.90L328.59,236.20L329.81,236.20L330.15,238.90ZM332.05,244.60L332.39,241.90L333.61,241.90L333.95,244.60ZM334.55,246.90L334.89,244.20L336.11,244.20L336.45,246.90ZM337.05,246.90L337.39,244.20L338.61,244.20L338.95,246.90ZM342.55,246.90L342.89,244.20L344.11,244.20L344.45,246.90ZM354.05,246.90L354.39,244.20L355.61,244.20L355.95,246.90ZM357.55,246.90L357.89,244.20L359.11,244.20L359.45,246.90ZM364.65,246.90L364.99,244.20L366.21,244.20L366.55,246.90ZM377.55,246.90L377.89,244.20L379.11,244.20L379.45,246.90ZM391.55,246.90L391.89,244.20L393.11,244.20L393.45,246.90ZM405.30,246.90L405.64,244.20L406.86,244.20L407.20,246.90ZM409.65,246.90L409.99,244.20L411.21,244.20L411.55,246.90ZM416.55,246.90L416.89,244.20L418.11,244.20L418.45,246.90ZM433.80,246.90L434.14,244.20L435.36,244.20L435.70,246.90Z" fill="#10108a"/>
<path d="M290.50,210.40 L296.10,210.40 L297.40,211.90 L298.60,213.10 L300.50,213.10 L301.75,214.20 L314.90,214.20 L318.00,215.00 L321.75,215.60 L325.50,216.00 L327.40,217.25 L336.75,217.25 L339.25,218.75 L344.25,219.75 L349.25,220.60 L353.00,221.90 L356.25,222.50 L363.75,223.10 L365.60,224.40 L375.60,224.40 L376.90,225.40 L387.50,225.40 L389.40,227.50 L392.50,230.60 L413.10,230.80 L414.00,234.40 L420.00,234.80 L420.60,239.40 L448.75,239.40" fill="none" stroke="#cc4a4a" stroke-width="1.0" stroke-opacity="1.0" stroke-linejoin="miter"/>
<path d="M295.75,211.49L296.09,208.79L297.31,208.79L297.65,211.49ZM303.05,214.60L303.39,211.90L304.61,211.90L304.95,214.60ZM304.55,214.60L304.89,211.90L306.11,211.90L306.45,214.60ZM306.05,214.60L306.39,211.90L307.61,211.90L307.95,214.60ZM307.55,214.60L307.89,211.90L309.11,211.90L309.45,214.60ZM309.05,214.60L309.39,211.90L310.61,211.90L310.95,214.60ZM311.05,214.60L311.39,211.90L312.61,211.90L312.95,214.60ZM312.55,214.60L312.89,211.90L314.11,211.90L314.45,214.60ZM318.05,215.56L318.39,212.86L319.61,212.86L319.95,215.56ZM320.05,215.88L320.39,213.18L321.61,213.18L321.95,215.88ZM321.55,216.08L321.89,213.38L323.11,213.38L323.45,216.08ZM322.55,216.19L322.89,213.49L324.11,213.49L324.45,216.19ZM324.05,216.35L324.39,213.65L325.61,213.65L325.95,216.35ZM326.05,217.39L326.39,214.69L327.61,214.69L327.95,217.39ZM327.55,217.65L327.89,214.95L329.11,214.95L329.45,217.65ZM329.05,217.65L329.39,214.95L330.61,214.95L330.95,217.65ZM330.55,217.65L330.89,214.95L332.11,214.95L332.45,217.65ZM332.05,217.65L332.39,214.95L333.61,214.95L333.95,217.65ZM333.55,217.65L333.89,214.95L335.11,214.95L335.45,217.65ZM335.55,217.65L335.89,214.95L337.11,214.95L337.45,217.65ZM339.05,219.30L339.39,216.60L340.61,216.60L340.95,219.30ZM341.05,219.70L341.39,217.00L342.61,217.00L342.95,219.70ZM342.55,220.00L342.89,217.30L344.11,217.30L344.45,220.00ZM344.05,220.28L344.39,217.58L345.61,217.58L345.95,220.28ZM345.55,220.53L345.89,217.83L347.11,217.83L347.45,220.53ZM347.05,220.79L347.39,218.09L348.61,218.09L348.95,220.79ZM350.05,221.61L350.39,218.91L351.61,218.91L351.95,221.61ZM357.05,223.04L357.39,220.34L358.61,220.34L358.95,223.04ZM358.55,223.16L358.89,220.46L360.11,220.46L360.45,223.16ZM362.05,223.44L362.39,220.74L363.61,220.74L363.95,223.44ZM364.05,224.38L364.39,221.68L365.61,221.68L365.95,224.38ZM366.05,224.80L366.39,222.10L367.61,222.10L367.95,224.80ZM367.55,224.80L367.89,222.10L369.11,222.10L369.45,224.80ZM369.05,224.80L369.39,222.10L370.61,222.10L370.95,224.80ZM371.05,224.80L371.39,222.10L372.61,222.10L372.95,224.80ZM373.05,224.80L373.39,222.10L374.61,222.10L374.95,224.80ZM376.05,225.80L376.39,223.10L377.61,223.10L377.95,225.80ZM378.05,225.80L378.39,223.10L379.61,223.10L379.95,225.80ZM379.55,225.80L379.89,223.10L381.11,223.10L381.45,225.80ZM381.05,225.80L381.39,223.10L382.61,223.10L382.95,225.80ZM382.55,225.80L382.89,223.10L384.11,223.10L384.45,225.80ZM384.55,225.80L384.89,223.10L386.11,223.10L386.45,225.80ZM387.05,226.35L387.39,223.65L388.61,223.65L388.95,226.35ZM389.05,228.50L389.39,225.80L390.61,225.80L390.95,228.50ZM395.05,231.03L395.39,228.33L396.61,228.33L396.95,231.03ZM397.55,231.06L397.89,228.36L399.11,228.36L399.45,231.06ZM399.05,231.07L399.39,228.37L400.61,228.37L400.95,231.07ZM401.05,231.09L401.39,228.39L402.61,228.39L402.95,231.09ZM403.05,231.11L403.39,228.41L404.61,228.41L404.95,231.11ZM405.05,231.13L405.39,228.43L406.61,228.43L406.95,231.13ZM407.15,231.15L407.49,228.45L408.71,228.45L409.05,231.15ZM410.30,231.18L410.64,228.48L411.86,228.48L412.20,231.18ZM414.65,234.91L414.99,232.21L416.21,232.21L416.55,234.91ZM416.55,235.03L416.89,232.33L418.11,232.33L418.45,235.03ZM420.95,239.80L421.29,237.10L422.51,237.10L422.85,239.80ZM427.15,239.80L427.49,237.10L428.71,237.10L429.05,239.80ZM432.15,239.80L432.49,237.10L433.71,237.10L434.05,239.80ZM434.05,239.80L434.39,237.10L435.61,237.10L435.95,239.80ZM436.30,239.80L436.64,237.10L437.86,237.10L438.20,239.80ZM442.15,239.80L442.49,237.10L443.71,237.10L444.05,239.80ZM445.30,239.80L445.64,237.10L446.86,237.10L447.20,239.80ZM447.15,239.80L447.49,237.10L448.71,237.10L449.05,239.80Z" fill="#b0000c"/>
<path d="M41.80,384.60 L42.40,392.10 L43.40,393.80 L44.40,393.80 L45.05,403.60 L50.40,403.80 L50.80,413.50 L51.10,423.10 L55.25,423.10 L55.60,433.10 L59.40,433.10 L60.00,443.10 L81.50,443.10 L81.90,452.75 L121.40,452.75 L121.60,472.50 L202.60,472.50" fill="none" stroke="#5a9a5a" stroke-width="1.0" stroke-opacity="1.0" stroke-linejoin="miter"/>
<path d="M49.65,409.05L49.99,406.35L51.21,406.35L51.55,409.05ZM54.65,433.50L54.99,430.80L56.21,430.80L56.55,433.50ZM112.05,453.15L112.39,450.45L113.61,450.45L113.95,453.15ZM115.05,453.15L115.39,450.45L116.61,450.45L116.95,453.15Z" fill="#2a7a2a"/>
<path d="M42.70,384.60 L45.40,384.60 L46.40,390.10 L46.70,390.40 L51.40,390.40 L51.80,393.10 L52.10,396.20 L55.50,396.20 L56.20,402.20 L59.20,402.20 L59.50,408.30 L64.90,408.30 L68.30,408.90 L68.50,416.00 L98.75,416.00 L99.20,424.60 L119.40,424.80 L119.60,436.10 L192.00,436.10 L192.20,464.10 L202.60,464.10" fill="none" stroke="#e0a040" stroke-width="1.0" stroke-opacity="1.0" stroke-linejoin="miter"/>
<path d="M45.05,388.30L45.39,385.60L46.61,385.60L46.95,388.30ZM51.05,395.57L51.39,392.87L52.61,392.87L52.95,395.57ZM63.95,408.70L64.29,406.00L65.51,406.00L65.85,408.70ZM65.05,408.89L65.39,406.19L66.61,406.19L66.95,408.89ZM99.05,425.01L99.39,422.31L100.61,422.31L100.95,425.01ZM102.05,425.04L102.39,422.34L103.61,422.34L103.95,425.04ZM109.05,425.11L109.39,422.41L110.61,422.41L110.95,425.11ZM125.05,436.50L125.39,433.80L126.61,433.80L126.95,436.50ZM165.05,436.50L165.39,433.80L166.61,433.80L166.95,436.50ZM178.80,436.50L179.14,433.80L180.36,433.80L180.70,436.50ZM201.35,464.50L201.69,461.80L202.91,461.80L203.25,464.50Z" fill="#d08020"/>
<path d="M42.30,384.60 L43.10,384.60 L43.70,388.10 L44.40,392.10 L45.40,394.50 L51.10,394.80 L51.80,395.10 L53.50,396.20 L54.10,400.90 L55.50,403.60 L56.50,406.60 L58.20,408.90 L59.20,410.30 L73.50,410.30 L74.10,412.50 L85.20,412.50 L85.60,416.90 L98.90,416.90 L99.30,420.60 L104.40,421.00 L104.80,425.00 L122.50,425.00 L122.80,430.25 L148.10,430.25 L148.40,436.00 L202.60,436.00" fill="none" stroke="#cc4a4a" stroke-width="1.0" stroke-opacity="1.0" stroke-linejoin="miter"/>
<path d="M65.05,410.70L65.39,408.00L66.61,408.00L66.95,410.70ZM67.05,410.70L67.39,408.00L68.61,408.00L68.95,410.70ZM69.05,410.70L69.39,408.00L70.61,408.00L70.95,410.70ZM74.05,412.90L74.39,410.20L75.61,410.20L75.95,412.90ZM77.05,412.90L77.39,410.20L78.61,410.20L78.95,412.90ZM79.55,412.90L79.89,410.20L81.11,410.20L81.45,412.90ZM81.05,412.90L81.39,410.20L82.61,410.20L82.95,412.90ZM106.05,425.40L106.39,422.70L107.61,422.70L107.95,425.40ZM111.05,425.40L111.39,422.70L112.61,422.70L112.95,425.40ZM125.55,430.65L125.89,427.95L127.11,427.95L127.45,430.65ZM139.05,430.65L139.39,427.95L140.61,427.95L140.95,430.65ZM142.55,430.65L142.89,427.95L144.11,427.95L144.45,430.65ZM159.65,436.40L159.99,433.70L161.21,433.70L161.55,436.40ZM162.25,436.40L162.59,433.70L163.81,433.70L164.15,436.40ZM174.45,436.40L174.79,433.70L176.01,433.70L176.35,436.40ZM179.45,436.40L179.79,433.70L181.01,433.70L181.35,436.40ZM193.75,436.40L194.09,433.70L195.31,433.70L195.65,436.40ZM200.65,436.40L200.99,433.70L202.21,433.70L202.55,436.40Z" fill="#b0000c"/>
<path d="M42.70,384.60 L45.70,384.20 L47.40,386.40 L50.10,386.70 L51.80,386.70 L53.10,388.40 L55.10,390.10 L57.20,392.80 L58.80,396.20 L59.90,399.50 L60.20,401.90 L62.20,402.30 L69.60,402.70 L71.60,403.60 L73.75,405.00 L77.50,407.50 L85.00,407.75 L90.00,408.10 L92.50,409.40 L96.25,411.60 L100.00,411.25 L102.50,410.80 L107.50,412.50 L112.50,413.75 L116.25,415.00 L117.50,415.40 L155.00,415.40 L158.75,416.25 L162.50,417.30 L168.50,418.50 L171.80,419.80 L195.60,419.80 L196.30,423.50 L202.20,423.50" fill="none" stroke="#2c3698" stroke-width="1.0" stroke-opacity="1.0" stroke-linejoin="miter"/>
<path d="M42.70,384.00 L45.70,383.60 L47.40,385.80 L50.10,386.10 L51.80,386.10 L53.10,387.80 L55.10,389.50 L57.20,392.20 L58.80,395.60 L59.90,398.90 L60.20,401.30" fill="none" stroke="#2c3698" stroke-width="1.6" stroke-opacity="1.0" stroke-linejoin="miter"/>
<path d="M44.75,384.60L45.09,382.20L46.31,382.20L46.65,384.60ZM62.05,402.74L62.39,400.34L63.61,400.34L63.95,402.74ZM64.05,402.85L64.39,400.45L65.61,400.45L65.95,402.85ZM66.05,402.96L66.39,400.56L67.61,400.56L67.95,402.96ZM68.05,403.07L68.39,400.67L69.61,400.67L69.95,403.07ZM70.05,403.73L70.39,401.33L71.61,401.33L71.95,403.73ZM72.55,405.24L72.89,402.84L74.11,402.84L74.45,405.24ZM74.55,406.57L74.89,404.17L76.11,404.17L76.45,406.57ZM76.55,407.90L76.89,405.50L78.11,405.50L78.45,407.90ZM79.05,407.98L79.39,405.58L80.61,405.58L80.95,407.98ZM83.05,408.12L83.39,405.72L84.61,405.72L84.95,408.12ZM85.55,408.25L85.89,405.86L87.11,405.86L87.45,408.25ZM88.05,408.43L88.39,406.03L89.61,406.03L89.95,408.43ZM90.05,409.02L90.39,406.62L91.61,406.62L91.95,409.02ZM92.55,410.39L92.89,407.99L94.11,407.99L94.45,410.39ZM95.05,411.85L95.39,409.45L96.61,409.45L96.95,411.85ZM98.05,411.74L98.39,409.34L99.61,409.34L99.95,411.74ZM100.05,411.47L100.39,409.07L101.61,409.07L101.95,411.47ZM102.05,411.37L102.39,408.97L103.61,408.97L103.95,411.37ZM104.05,412.05L104.39,409.65L105.61,409.65L105.95,412.05ZM106.05,412.73L106.39,410.33L107.61,410.33L107.95,412.73ZM108.05,413.27L108.39,410.88L109.61,410.88L109.95,413.27ZM110.05,413.77L110.39,411.38L111.61,411.38L111.95,413.77ZM113.05,414.65L113.39,412.25L114.61,412.25L114.95,414.65ZM116.05,415.64L116.39,413.24L117.61,413.24L117.95,415.64ZM120.05,415.80L120.39,413.40L121.61,413.40L121.95,415.80ZM123.05,415.80L123.39,413.40L124.61,413.40L124.95,415.80ZM126.05,415.80L126.39,413.40L127.61,413.40L127.95,415.80ZM129.05,415.80L129.39,413.40L130.61,413.40L130.95,415.80ZM134.05,415.80L134.39,413.40L135.61,413.40L135.95,415.80ZM136.05,415.80L136.39,413.40L137.61,413.40L137.95,415.80ZM138.05,415.80L138.39,413.40L139.61,413.40L139.95,415.80ZM142.55,415.80L142.89,413.40L144.11,413.40L144.45,415.80ZM145.05,415.80L145.39,413.40L146.61,413.40L146.95,415.80ZM149.05,415.80L149.39,413.40L150.61,413.40L150.95,415.80ZM151.05,415.80L151.39,413.40L152.61,413.40L152.95,415.80ZM153.05,415.80L153.39,413.40L154.61,413.40L154.95,415.80ZM156.05,416.25L156.39,413.85L157.61,413.85L157.95,416.25ZM158.05,416.72L158.39,414.32L159.61,414.32L159.95,416.72ZM160.05,417.28L160.39,414.88L161.61,414.88L161.95,417.28ZM162.05,417.80L162.39,415.40L163.61,415.40L163.95,417.80ZM164.05,418.20L164.39,415.80L165.61,415.80L165.95,418.20ZM166.05,418.60L166.39,416.20L167.61,416.20L167.95,418.60ZM168.55,419.29L168.89,416.89L170.11,416.89L170.45,419.29ZM171.05,420.20L171.39,417.80L172.61,417.80L172.95,420.20ZM173.05,420.20L173.39,417.80L174.61,417.80L174.95,420.20ZM175.05,420.20L175.39,417.80L176.61,417.80L176.95,420.20ZM177.05,420.20L177.39,417.80L178.61,417.80L178.95,420.20ZM179.05,420.20L179.39,417.80L180.61,417.80L180.95,420.20ZM181.05,420.20L181.39,417.80L182.61,417.80L182.95,420.20ZM183.05,420.20L183.39,417.80L184.61,417.80L184.95,420.20ZM185.05,420.20L185.39,417.80L186.61,417.80L186.95,420.20ZM187.05,420.20L187.39,417.80L188.61,417.80L188.95,420.20ZM189.05,420.20L189.39,417.80L190.61,417.80L190.95,420.20ZM191.05,420.20L191.39,417.80L192.61,417.80L192.95,420.20ZM193.05,420.20L193.39,417.80L194.61,417.80L194.95,420.20ZM195.55,423.90L195.89,421.50L197.11,421.50L197.45,423.90ZM200.55,423.90L200.89,421.50L202.11,421.50L202.45,423.90Z" fill="#000a80"/>
<path d="M294.90,383.50 L295.20,393.30 L296.60,393.30 L296.90,403.10 L300.40,403.10 L300.65,413.20 L305.85,413.20 L306.10,422.40 L414.80,422.40" fill="none" stroke="#5a9a5a" stroke-width="1.0" stroke-opacity="1.0" stroke-linejoin="miter"/>
<path d="M309.55,422.80L309.89,420.10L311.11,420.10L311.45,422.80ZM336.65,422.80L336.99,420.10L338.21,420.10L338.55,422.80ZM338.35,422.80L338.69,420.10L339.91,420.10L340.25,422.80ZM339.55,422.80L339.89,420.10L341.11,420.10L341.45,422.80ZM364.95,422.80L365.29,420.10L366.51,420.10L366.85,422.80ZM399.85,422.80L400.19,420.10L401.41,420.10L401.75,422.80ZM413.85,422.80L414.19,420.10L415.41,420.10L415.75,422.80Z" fill="#2a7a2a"/>
<path d="M295.50,383.50 L300.40,383.50 L300.70,389.50 L322.60,389.50 L322.90,396.50 L341.40,396.50 L341.60,406.60 L390.50,406.60 L390.80,435.20 L442.10,435.20" fill="none" stroke="#e0a040" stroke-width="1.0" stroke-opacity="1.0" stroke-linejoin="miter"/>
<path d="M303.55,389.90L303.89,387.20L305.11,387.20L305.45,389.90ZM307.75,389.90L308.09,387.20L309.31,387.20L309.65,389.90ZM327.35,396.90L327.69,394.20L328.91,394.20L329.25,396.90ZM336.05,396.90L336.39,394.20L337.61,394.20L337.95,396.90ZM340.35,396.90L340.69,394.20L341.91,394.20L342.25,396.90ZM368.65,407.00L368.99,404.30L370.21,404.30L370.55,407.00ZM369.85,407.00L370.19,404.30L371.41,404.30L371.75,407.00ZM375.55,407.00L375.89,404.30L377.11,404.30L377.45,407.00ZM377.35,407.00L377.69,404.30L378.91,404.30L379.25,407.00ZM413.85,435.60L414.19,432.90L415.41,432.90L415.75,435.60ZM440.95,435.60L441.29,432.90L442.51,432.90L442.85,435.60Z" fill="#d08020"/>
<path d="M295.30,383.50 L295.80,391.30 L301.50,391.30 L302.40,392.70 L303.80,393.60 L305.30,396.30 L313.90,396.30 L314.40,399.30 L324.90,399.30 L325.50,402.80 L331.80,402.80 L333.50,404.50 L334.70,407.40 L336.40,412.00 L340.50,412.00 L343.30,415.80 L431.20,415.80" fill="none" stroke="#cc4a4a" stroke-width="1.0" stroke-opacity="1.0" stroke-linejoin="miter"/>
<path d="M299.45,391.70L299.79,389.00L301.01,389.00L301.35,391.70ZM308.05,396.70L308.39,394.00L309.61,394.00L309.95,396.70ZM310.05,396.70L310.39,394.00L311.61,394.00L311.95,396.70ZM311.05,396.70L311.39,394.00L312.61,394.00L312.95,396.70ZM313.55,399.70L313.89,397.00L315.11,397.00L315.45,399.70ZM317.05,399.70L317.39,397.00L318.61,397.00L318.95,399.70ZM318.05,399.70L318.39,397.00L319.61,397.00L319.95,399.70ZM319.55,399.70L319.89,397.00L321.11,397.00L321.45,399.70ZM325.05,403.20L325.39,400.50L326.61,400.50L326.95,403.20ZM330.05,403.20L330.39,400.50L331.61,400.50L331.95,403.20ZM338.05,412.40L338.39,409.70L339.61,409.70L339.95,412.40ZM348.05,416.20L348.39,413.50L349.61,413.50L349.95,416.20ZM354.25,416.20L354.59,413.50L355.81,413.50L356.15,416.20ZM358.05,416.20L358.39,413.50L359.61,413.50L359.95,416.20ZM365.75,416.20L366.09,413.50L367.31,413.50L367.65,416.20ZM366.35,416.20L366.69,413.50L367.91,413.50L368.25,416.20ZM374.25,416.20L374.59,413.50L375.81,413.50L376.15,416.20ZM376.75,416.20L377.09,413.50L378.31,413.50L378.65,416.20ZM385.75,416.20L386.09,413.50L387.31,413.50L387.65,416.20ZM390.05,416.20L390.39,413.50L391.61,413.50L391.95,416.20ZM403.05,416.20L403.39,413.50L404.61,413.50L404.95,416.20ZM407.70,416.20L408.04,413.50L409.26,413.50L409.60,416.20ZM416.35,416.20L416.69,413.50L417.91,413.50L418.25,416.20ZM430.25,416.20L430.59,413.50L431.81,413.50L432.15,416.20Z" fill="#b0000c"/>
<path d="M294.50,383.50 L300.40,383.50 L301.25,384.30 L305.00,385.20 L306.70,386.10 L318.90,386.65 L322.00,387.50 L328.90,388.60 L340.50,389.30 L342.80,390.50 L352.00,392.40 L365.00,392.40 L366.15,393.90 L376.00,393.90 L376.80,395.50 L387.30,395.50 L387.50,398.85 L444.00,398.85" fill="none" stroke="#2c3698" stroke-width="1.0" stroke-opacity="1.0" stroke-linejoin="miter"/>
<path d="M299.50,383.90L299.82,381.70L300.98,381.70L301.30,383.90ZM302.10,385.12L302.42,382.92L303.58,382.92L303.90,385.12ZM305.60,386.39L305.92,384.19L307.08,384.19L307.40,386.39ZM307.10,386.56L307.42,384.36L308.58,384.36L308.90,386.56ZM308.60,386.63L308.92,384.43L310.08,384.43L310.40,386.63ZM310.10,386.69L310.42,384.49L311.58,384.49L311.90,386.69ZM311.60,386.76L311.92,384.56L313.08,384.56L313.40,386.76ZM313.10,386.83L313.42,384.63L314.58,384.63L314.90,386.83ZM315.10,386.92L315.42,384.72L316.58,384.72L316.90,386.92ZM317.10,387.01L317.42,384.81L318.58,384.81L318.90,387.01ZM319.60,387.49L319.92,385.29L321.08,385.29L321.40,387.49ZM321.60,387.98L321.92,385.78L323.08,385.78L323.40,387.98ZM323.60,388.30L323.92,386.10L325.08,386.10L325.40,388.30ZM325.60,388.62L325.92,386.42L327.08,386.42L327.40,388.62ZM327.60,388.94L327.92,386.74L329.08,386.74L329.40,388.94ZM330.10,389.13L330.42,386.93L331.58,386.93L331.90,389.13ZM332.10,389.25L332.42,387.05L333.58,387.05L333.90,389.25ZM334.10,389.37L334.42,387.17L335.58,387.17L335.90,389.37ZM336.10,389.49L336.42,387.29L337.58,387.29L337.90,389.49ZM338.10,389.61L338.42,387.41L339.58,387.41L339.90,389.61ZM340.10,389.96L340.42,387.76L341.58,387.76L341.90,389.96ZM342.10,390.94L342.42,388.74L343.58,388.74L343.90,390.94ZM344.10,391.35L344.42,389.15L345.58,389.15L345.90,391.35ZM346.10,391.77L346.42,389.57L347.58,389.57L347.90,391.77ZM348.10,392.18L348.42,389.98L349.58,389.98L349.90,392.18ZM350.10,392.59L350.42,390.39L351.58,390.39L351.90,392.59ZM352.10,392.80L352.42,390.60L353.58,390.60L353.90,392.80ZM355.10,392.80L355.42,390.60L356.58,390.60L356.90,392.80ZM358.10,392.80L358.42,390.60L359.58,390.60L359.90,392.80ZM360.10,392.80L360.42,390.60L361.58,390.60L361.90,392.80ZM362.10,392.80L362.42,390.60L363.58,390.60L363.90,392.80ZM364.10,392.80L364.42,390.60L365.58,390.60L365.90,392.80ZM366.10,394.30L366.42,392.10L367.58,392.10L367.90,394.30ZM368.10,394.30L368.42,392.10L369.58,392.10L369.90,394.30ZM370.10,394.30L370.42,392.10L371.58,392.10L371.90,394.30ZM372.60,394.30L372.92,392.10L374.08,392.10L374.40,394.30ZM374.60,394.30L374.92,392.10L376.08,392.10L376.40,394.30ZM376.60,395.90L376.92,393.70L378.08,393.70L378.40,395.90ZM378.60,395.90L378.92,393.70L380.08,393.70L380.40,395.90ZM380.60,395.90L380.92,393.70L382.08,393.70L382.40,395.90ZM382.60,395.90L382.92,393.70L384.08,393.70L384.40,395.90ZM384.60,395.90L384.92,393.70L386.08,393.70L386.40,395.90ZM387.10,399.25L387.42,397.05L388.58,397.05L388.90,399.25ZM389.10,399.25L389.42,397.05L390.58,397.05L390.90,399.25ZM391.10,399.25L391.42,397.05L392.58,397.05L392.90,399.25ZM393.10,399.25L393.42,397.05L394.58,397.05L394.90,399.25ZM395.10,399.25L395.42,397.05L396.58,397.05L396.90,399.25ZM397.10,399.25L397.42,397.05L398.58,397.05L398.90,399.25ZM400.10,399.25L400.42,397.05L401.58,397.05L401.90,399.25ZM403.10,399.25L403.42,397.05L404.58,397.05L404.90,399.25ZM406.10,399.25L406.42,397.05L407.58,397.05L407.90,399.25ZM408.60,399.25L408.92,397.05L410.08,397.05L410.40,399.25ZM412.10,399.25L412.42,397.05L413.58,397.05L413.90,399.25ZM415.10,399.25L415.42,397.05L416.58,397.05L416.90,399.25ZM418.10,399.25L418.42,397.05L419.58,397.05L419.90,399.25ZM421.10,399.25L421.42,397.05L422.58,397.05L422.90,399.25ZM424.10,399.25L424.42,397.05L425.58,397.05L425.90,399.25ZM426.10,399.25L426.42,397.05L427.58,397.05L427.90,399.25ZM429.10,399.25L429.42,397.05L430.58,397.05L430.90,399.25ZM432.10,399.25L432.42,397.05L433.58,397.05L433.90,399.25ZM436.10,399.25L436.42,397.05L437.58,397.05L437.90,399.25ZM439.10,399.25L439.42,397.05L440.58,397.05L440.90,399.25ZM442.60,399.25L442.92,397.05L444.08,397.05L444.40,399.25Z" fill="#000a80"/>
<line x1="39.20" y1="113.50" x2="51.30" y2="113.50" stroke="#d05a5a" stroke-width="1.0"/>
<path d="M44.25,113.80 L45.25,111.00 L46.25,113.80 Z" fill="#b0000c"/>
<line x1="39.20" y1="124.00" x2="51.30" y2="124.00" stroke="#7474c8" stroke-width="1.0"/>
<path d="M44.25,124.30 L45.25,121.50 L46.25,124.30 Z" fill="#10108a"/>
<text class="r" x="58.10" y="116.50" font-size="9.2" font-weight="normal" text-anchor="start" fill="#222" >Proficient</text>
<text class="r" x="58.10" y="127.10" font-size="9.2" font-weight="normal" text-anchor="start" fill="#222" >Impaired</text>
<text class="r" x="109.70" y="116.60" font-size="9.1" font-weight="normal" text-anchor="start" fill="#222" >3-yr PFS: 65% vs 48%</text>
<text class="r" x="109.70" y="127.30" font-size="9.1" font-weight="normal" text-anchor="start" fill="#222" >HR 0.41, <tspan font-style="italic" font-size="10.01" dx="-0.55">P</tspan><tspan dx="0.55">=</tspan>0.0001</text>
<line x1="293.90" y1="114.50" x2="305.80" y2="114.50" stroke="#d05a5a" stroke-width="1.0"/>
<path d="M298.85,114.80 L299.85,112.00 L300.85,114.80 Z" fill="#b0000c"/>
<line x1="293.90" y1="125.30" x2="305.80" y2="125.30" stroke="#7474c8" stroke-width="1.0"/>
<path d="M298.85,125.60 L299.85,122.80 L300.85,125.60 Z" fill="#10108a"/>
<text class="r" x="312.50" y="118.00" font-size="8.0" font-weight="normal" text-anchor="start" fill="#222" >Proficient</text>
<text class="r" x="312.50" y="128.70" font-size="8.0" font-weight="normal" text-anchor="start" fill="#222" >Impaired</text>
<text class="r" x="352.90" y="118.00" font-size="8.0" font-weight="normal" text-anchor="start" fill="#222" >3-yr OS: 88% vs 70%</text>
<text class="r" x="352.90" y="128.70" font-size="8.0" font-weight="normal" text-anchor="start" fill="#222" >HR 0.28, <tspan font-style="italic" font-size="8.80" dx="-0.48">P</tspan><tspan dx="0.80" font-size="6.40">&lt;</tspan>0.0001</text>
<line x1="45.50" y1="294.00" x2="58.00" y2="294.00" stroke="#d05a5a" stroke-width="1.0"/>
<path d="M50.75,294.30 L51.75,291.50 L52.75,294.30 Z" fill="#b0000c"/>
<line x1="45.50" y1="305.00" x2="58.00" y2="305.00" stroke="#7474c8" stroke-width="1.0"/>
<path d="M50.75,305.30 L51.75,302.50 L52.75,305.30 Z" fill="#10108a"/>
<text class="r" x="65.10" y="297.40" font-size="8.9" font-weight="normal" text-anchor="start" fill="#222" >Conventional</text>
<text class="r" x="65.10" y="307.90" font-size="8.9" font-weight="normal" text-anchor="start" fill="#222" >Other</text>
<text class="r" x="130.20" y="296.60" font-size="9.35" font-weight="normal" text-anchor="start" fill="#222" >3-yr PFS: 67% vs 40%</text>
<text class="r" x="130.20" y="307.10" font-size="9.35" font-weight="normal" text-anchor="start" fill="#222" >HR 0.46, <tspan font-style="italic" font-size="10.29" dx="-0.56">P</tspan><tspan dx="0.56">=</tspan>0.0007</text>
<line x1="295.30" y1="292.80" x2="307.40" y2="292.80" stroke="#d05a5a" stroke-width="1.0"/>
<path d="M300.35,293.10 L301.35,290.30 L302.35,293.10 Z" fill="#b0000c"/>
<line x1="295.30" y1="304.50" x2="307.40" y2="304.50" stroke="#7474c8" stroke-width="1.0"/>
<path d="M300.35,304.80 L301.35,302.00 L302.35,304.80 Z" fill="#10108a"/>
<text class="r" x="314.30" y="296.30" font-size="8.93" font-weight="normal" text-anchor="start" fill="#222" >Conventional</text>
<text class="r" x="314.30" y="307.80" font-size="8.93" font-weight="normal" text-anchor="start" fill="#222" >Other</text>
<text class="r" x="379.60" y="295.40" font-size="9.3" font-weight="normal" text-anchor="start" fill="#222" >3-yr OS: 87% vs 70%</text>
<text class="r" x="379.60" y="306.90" font-size="9.3" font-weight="normal" text-anchor="start" fill="#222" >HR 0.31, <tspan font-style="italic" font-size="10.23" dx="-0.56">P</tspan><tspan dx="0.56">=</tspan>0.0003</text>
<line x1="18.75" y1="530.50" x2="30.50" y2="530.50" stroke="#5a5ab8" stroke-width="1.0"/>
<path d="M23.62,530.80 L24.62,528.00 L25.62,530.80 Z" fill="#000a80"/>
<line x1="18.75" y1="544.50" x2="30.50" y2="544.50" stroke="#d05a5a" stroke-width="1.0"/>
<path d="M23.62,544.80 L24.62,542.00 L25.62,544.80 Z" fill="#b0000c"/>
<line x1="149.70" y1="530.40" x2="161.20" y2="530.40" stroke="#e8b060" stroke-width="1.0"/>
<path d="M154.45,530.70 L155.45,527.90 L156.45,530.70 Z" fill="#d08020"/>
<line x1="149.70" y1="544.20" x2="161.20" y2="544.20" stroke="#6aa06a" stroke-width="1.0"/>
<path d="M154.45,544.50 L155.45,541.70 L156.45,544.50 Z" fill="#2a7a2a"/>
<text class="r" x="37.00" y="533.50" font-size="8.8" font-weight="normal" text-anchor="start" fill="#222" >Proficient ADL, Conv Tx</text>
<text class="r" x="37.00" y="547.50" font-size="8.8" font-weight="normal" text-anchor="start" fill="#222" >Proficient ADL, Other Tx</text>
<text class="r" x="168.20" y="533.40" font-size="8.67" font-weight="normal" text-anchor="start" fill="#222" >Impaired ADL, Conv Tx</text>
<text class="r" x="168.20" y="547.20" font-size="8.67" font-weight="normal" text-anchor="start" fill="#222" >Impaired ADL, Other Tx</text>
<line x1="274.25" y1="532.00" x2="285.00" y2="532.00" stroke="#5a5ab8" stroke-width="1.0"/>
<path d="M278.62,532.30 L279.62,529.50 L280.62,532.30 Z" fill="#000a80"/>
<line x1="274.25" y1="546.25" x2="285.00" y2="546.25" stroke="#d05a5a" stroke-width="1.0"/>
<path d="M278.62,546.55 L279.62,543.75 L280.62,546.55 Z" fill="#b0000c"/>
<line x1="400.00" y1="532.00" x2="412.00" y2="532.00" stroke="#e8b060" stroke-width="1.0"/>
<path d="M405.00,532.30 L406.00,529.50 L407.00,532.30 Z" fill="#d08020"/>
<line x1="400.00" y1="546.25" x2="412.00" y2="546.25" stroke="#6aa06a" stroke-width="1.0"/>
<path d="M405.00,546.55 L406.00,543.75 L407.00,546.55 Z" fill="#2a7a2a"/>
<text class="r" x="292.00" y="535.00" font-size="8.77" font-weight="normal" text-anchor="start" fill="#222" >Proficient ADL, Conv Tx</text>
<text class="r" x="292.00" y="549.25" font-size="8.77" font-weight="normal" text-anchor="start" fill="#222" >Proficient ADL, Other Tx</text>
<text class="r" x="418.25" y="535.00" font-size="8.7" font-weight="normal" text-anchor="start" fill="#222" >Impaired ADL, Conv Tx</text>
<text class="r" x="418.25" y="549.25" font-size="8.7" font-weight="normal" text-anchor="start" fill="#222" >Impaired ADL, Other Tx</text>
<text class="r" x="23.75" y="568.60" font-size="8.8" font-weight="normal" text-anchor="start" fill="#222" >Proficient ADL, conventional vs other tx: HR 0.64, <tspan font-style="italic" font-size="9.68" dx="-0.53">P</tspan><tspan dx="0.53">=</tspan>0.12</text>
<text class="r" x="23.75" y="579.50" font-size="8.8" font-weight="normal" text-anchor="start" fill="#222" >1+ impaired ADL, conventional vs other tx: HR 0.46, <tspan font-style="italic" font-size="9.68" dx="-0.53">P</tspan><tspan dx="0.53">=</tspan>0.11</text>
<text class="r" x="23.75" y="590.40" font-size="8.8" font-weight="normal" text-anchor="start" fill="#222" >Conventional tx, proficient vs impaired ADL: HR 0.57, <tspan font-style="italic" font-size="9.68" dx="-0.53">P</tspan><tspan dx="0.53">=</tspan>0.14</text>
<text class="r" x="23.75" y="601.30" font-size="8.8" font-weight="normal" text-anchor="start" fill="#222" >Other tx, proficient vs impaired ADL: HR 0.40, <tspan font-style="italic" font-size="9.68" dx="-0.53">P</tspan><tspan dx="0.53">=</tspan>0.03 <tspan font-size="8" dy="-1.6">*</tspan></text>
<text class="r" x="276.60" y="565.40" font-size="8.85" font-weight="normal" text-anchor="start" fill="#222" >Proficient&#160; ADL, conventional vs other tx: HR 0.31, <tspan font-style="italic" font-size="9.74" dx="-0.53">P</tspan><tspan dx="0.53">=</tspan>0.002 <tspan font-size="7.5" dy="-1.8">**</tspan></text>
<text class="r" x="276.60" y="576.50" font-size="8.85" font-weight="normal" text-anchor="start" fill="#222" >1+ impaired ADL, conventional vs other tx: HR 0.49, <tspan font-style="italic" font-size="9.74" dx="-0.53">P</tspan><tspan dx="0.53">=</tspan>0.31</text>
<text class="r" x="276.60" y="587.80" font-size="8.85" font-weight="normal" text-anchor="start" fill="#222" >Conventional tx, proficient vs impaired ADL: HR 0.37, 0.06</text>
<text class="r" x="276.60" y="599.00" font-size="8.85" font-weight="normal" text-anchor="start" fill="#222" >Other tx, proficient vs impaired ADL: HR 0.58, <tspan font-style="italic" font-size="9.74" dx="-0.53">P</tspan><tspan dx="0.53">=</tspan>0.35</text>
</svg></body></html>
